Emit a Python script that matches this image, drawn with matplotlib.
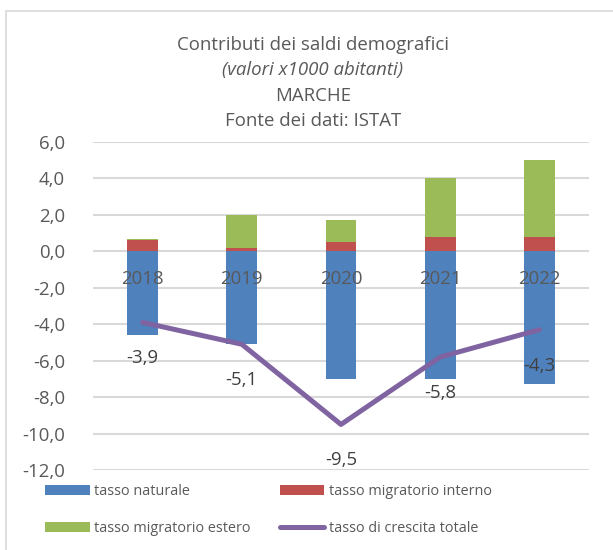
import matplotlib.pyplot as plt
from matplotlib.patches import Rectangle

plt.rcParams["font.family"] = ["Open Sans", "DejaVu Sans"]

# data (valori x1000 abitanti)
anni = ["2018", "2019", "2020", "2021", "2022"]
tasso_naturale = [-4.6, -5.1, -7.0, -7.0, -7.3]
tasso_migr_interno = [0.6, 0.2, 0.5, 0.8, 0.8]
tasso_migr_estero = [0.1, 1.8, 1.2, 3.2, 4.2]
tasso_crescita = [-3.9, -5.1, -9.5, -5.8, -4.3]
yticks = [-12, -10, -8, -6, -4, -2, 0, 2, 4, 6]

BLUE = "#4F81BD"
RED = "#C0504D"
GREEN = "#9BBB59"
PURPLE = "#8064A2"
GRID = "#D9D9D9"
TXT = "#595959"
FS = 13.4

W, H = 613, 550
fig = plt.figure(figsize=(W / 100, H / 100), dpi=100)

# outer chart border (clipped on right/bottom as in the reference)
fig.patches.append(Rectangle((6 / W, -0.1), 1.2, (H - 11) / H + 0.1,
                             transform=fig.transFigure, fill=False,
                             edgecolor=GRID, linewidth=1.2))

ax = fig.add_axes([93 / W, 1 - 470 / H, (589 - 93) / W, (470 - 142) / H])

x = list(range(len(anni)))
bw = 0.31
b1 = ax.bar(x, tasso_naturale, bw, color=BLUE, zorder=2)
b2 = ax.bar(x, tasso_migr_interno, bw, color=RED, zorder=2)
b3 = ax.bar(x, tasso_migr_estero, bw, bottom=tasso_migr_interno, color=GREEN,
            zorder=2)
ln, = ax.plot(x, tasso_crescita, color=PURPLE, linewidth=3.6,
              solid_capstyle="round", zorder=3)

for xi, v in zip(x, tasso_crescita):
    ax.annotate(f"{v:.1f}".replace(".", ","), (xi, v), xytext=(0, -36),
                textcoords="offset pixels", ha="center", va="center",
                fontsize=FS, color="#404040", zorder=4)

# category labels sit just under the zero line
for xi, a in zip(x, anni):
    ax.annotate(a, (xi, 0), xytext=(0, -28), textcoords="offset pixels",
                ha="center", va="center", fontsize=FS, color=TXT, zorder=4)

ax.set_xlim(-0.5, len(anni) - 0.5)
ax.set_ylim(-12, 6)
ax.set_yticks(yticks)
ax.set_yticklabels([f"{t:.1f}".replace(".", ",") for t in yticks],
                   fontsize=FS, color=TXT)
ax.set_xticks([])
ax.tick_params(axis="y", length=0, pad=20)
ax.grid(axis="y", color=GRID, linewidth=1.5, zorder=0)
for s in ax.spines.values():
    s.set_visible(False)

# title block
tx = 313 / W
fig.text(tx, 1 - 45 / H, "Contributi dei saldi demografici", ha="center",
         va="center", fontsize=FS, color=TXT)
fig.text(tx, 1 - 70 / H, "(valori x1000 abitanti)", ha="center", va="center",
         fontsize=FS, color=TXT, style="italic")
fig.text(tx, 1 - 96 / H, "MARCHE", ha="center", va="center", fontsize=FS,
         color=TXT)
fig.text(tx, 1 - 121 / H, "Fonte dei dati: ISTAT", ha="center", va="center",
         fontsize=FS, color=TXT)

# legend filled column-wise, so order gives the two rows of the reference
fig.legend(handles=[b1, b3, b2, ln],
           labels=["tasso naturale", "tasso migratorio estero",
                   "tasso migratorio interno", "tasso di crescita totale"],
           ncol=2, loc="center left", bbox_to_anchor=(45 / W, 1 - 510 / H),
           frameon=False, fontsize=10.4, labelcolor=TXT, borderpad=0,
           borderaxespad=0, handlelength=3.1, handletextpad=0.3,
           columnspacing=2.0, labelspacing=1.55)

fig.savefig("out.png", dpi=100)
